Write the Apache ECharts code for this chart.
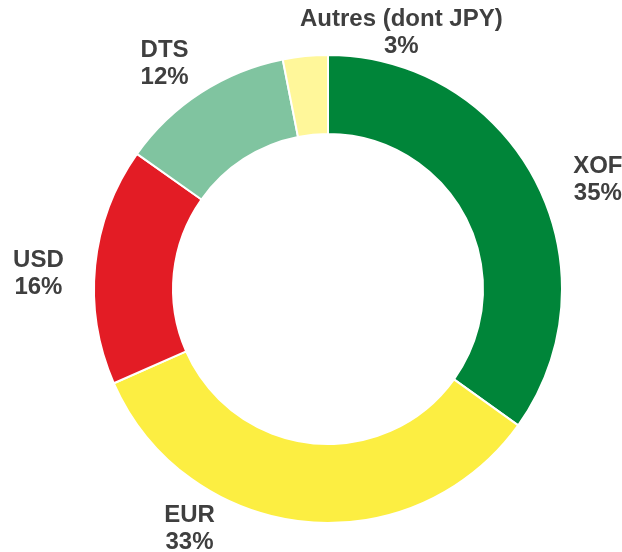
<!DOCTYPE html>
<html>
<head>
<meta charset="utf-8">
<script src="https://cdn.jsdelivr.net/npm/echarts@6/dist/echarts.min.js"></script>
<style>
  html, body { margin: 0; padding: 0; background: #ffffff; }
  #pieChart { width: 622px; height: 552px; }
</style>
</head>
<body>
<div id="pieChart"></div>
<script>
// devises : parts
var currencies = ["XOF", "EUR", "USD", "DTS", "Autres (dont JPY)"];
var shares = [34.9, 33.5, 16.4, 12.1, 3.1];
var shareLabels = ["35%", "33%", "16%", "12%", "3%"];

var colors = ["#008539", "#FCEE42", "#E31C25", "#80C4A0", "#FFF79A"];

// emplacement des étiquettes : angle (degrés, sens horaire depuis le haut) et rayon
var labelSpots = [[68, 291], [210, 277], [273, 290], [324, 278], [16, 266]];
var cx = 328, cy = 289;

var pieChart = echarts.init(document.getElementById("pieChart"));

pieChart.setOption({
  animation: false,
  color: colors,
  series: [
    {
      type: "pie",
      center: [cx, cy],
      radius: [155, 234],
      startAngle: 90,
      clockwise: true,
      silent: true,
      itemStyle: {
        borderColor: "#ffffff",
        borderWidth: 2
      },
      label: {
        show: true,
        position: "outside",
        overflow: "none",
        edgeDistance: 0,
        fontFamily: "Liberation Sans, Arial, sans-serif",
        fontWeight: "bold",
        fontSize: 24,
        lineHeight: 27,
        color: "#3f3f3f",
        formatter: function (p) {
          return p.name + "\n" + shareLabels[p.dataIndex];
        }
      },
      labelLine: { show: false },
      labelLayout: function (params) {
        var spot = labelSpots[params.dataIndex];
        var a = spot[0] * Math.PI / 180;
        return {
          x: cx + spot[1] * Math.sin(a),
          y: cy - spot[1] * Math.cos(a),
          width: 260,
          align: "center",
          verticalAlign: "middle"
        };
      },
      data: currencies.map(function (name, i) {
        return { name: name, value: shares[i] };
      })
    }
  ]
});
</script>
</body>
</html>
